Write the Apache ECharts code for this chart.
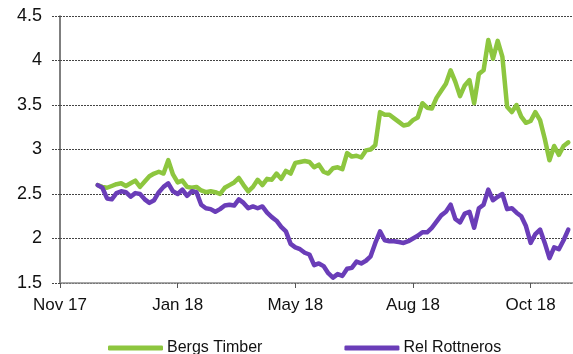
<!DOCTYPE html>
<html>
<head>
<meta charset="utf-8">
<script src="https://cdn.jsdelivr.net/npm/echarts@6/dist/echarts.min.js"></script>
<style>
  html, body { margin: 0; padding: 0; background: #fff; }
  #chart { width: 573px; height: 354px; }
</style>
</head>
<body>
<div id="chart"></div>
<script>
// Category axis: 110 trading-day slots, a labelled tick every 25 slots
const slotCount = 110;
const tickEvery = 25;
const tickLabels = ['Nov 17', 'Jan 18', 'May 18', 'Aug 18', 'Oct 18'];
const firstSlot = 8;

const bergsTimber = [
  2.60, 2.58, 2.57, 2.59, 2.61, 2.62, 2.59, 2.62, 2.65, 2.58,
  2.64, 2.70, 2.73, 2.75, 2.73, 2.88, 2.72, 2.63, 2.65, 2.58,
  2.57, 2.58, 2.54, 2.52, 2.53, 2.52, 2.50, 2.57, 2.60, 2.63,
  2.68, 2.60, 2.53, 2.58, 2.66, 2.60, 2.67, 2.66, 2.73, 2.67,
  2.76, 2.73, 2.85, 2.86, 2.87, 2.86, 2.80, 2.83, 2.75, 2.73,
  2.79, 2.80, 2.78, 2.96, 2.92, 2.93, 2.91, 2.99, 3.00, 3.05,
  3.42, 3.39, 3.39, 3.35, 3.31, 3.27, 3.28, 3.33, 3.36, 3.52,
  3.47, 3.46, 3.58, 3.66, 3.74, 3.89, 3.76, 3.60, 3.72, 3.78,
  3.52, 3.85, 3.89, 4.23, 4.02, 4.22, 4.04, 3.48, 3.42, 3.50,
  3.37, 3.30, 3.32, 3.42, 3.33, 3.12, 2.88, 3.04, 2.94, 3.04,
  3.08
];

const relRottneros = [
  2.60, 2.57, 2.45, 2.44, 2.51, 2.53, 2.52, 2.47, 2.51, 2.50,
  2.44, 2.40, 2.43, 2.52, 2.58, 2.62, 2.53, 2.50, 2.55, 2.48,
  2.53, 2.52, 2.38, 2.34, 2.33, 2.30, 2.33, 2.37, 2.38, 2.37,
  2.44, 2.40, 2.34, 2.36, 2.34, 2.36, 2.29, 2.24, 2.20, 2.13,
  2.08, 1.94, 1.90, 1.88, 1.84, 1.82, 1.70, 1.72, 1.69, 1.61,
  1.56, 1.60, 1.58, 1.66, 1.67, 1.74, 1.72, 1.75, 1.80, 1.95,
  2.08, 1.98, 1.97, 1.97, 1.96, 1.95, 1.97, 2.00, 2.03, 2.07,
  2.07, 2.12, 2.19, 2.26, 2.30, 2.38, 2.22, 2.18, 2.28, 2.30,
  2.12, 2.34, 2.38, 2.55, 2.43, 2.47, 2.50, 2.33, 2.34, 2.29,
  2.25, 2.14, 1.95, 2.05, 2.10, 1.95, 1.78, 1.90, 1.88, 1.98,
  2.10
];

const seriesNames = ['Bergs Timber', 'Rel Rottneros'];
const seriesColors = ['#8dc63f', '#6a3db8'];

function placeOnSlots(values) {
  const out = new Array(slotCount).fill(null);
  values.forEach((v, i) => { out[firstSlot + i] = v; });
  return out;
}

const categories = Array.from({ length: slotCount }, (_, i) => String(i));
const FONT = '"Liberation Sans", Arial, sans-serif';

const chart = echarts.init(document.getElementById('chart'), null, { renderer: 'canvas' });
chart.setOption({
  animation: false,
  backgroundColor: '#ffffff',
  grid: { left: 60, right: 0, top: 16, bottom: 71, containLabel: false },
  legend: {
    data: seriesNames,
    left: 103,
    top: 335,
    itemWidth: 55,
    itemHeight: 5,
    itemGap: 82,
    icon: 'roundRect',
    textStyle: { fontFamily: FONT, fontSize: 16, color: '#111', padding: [0, 0, 0, -1] }
  },
  xAxis: {
    type: 'category',
    data: categories,
    boundaryGap: false,
    axisLine: { lineStyle: { color: '#8a8a8a', width: 1.5 } },
    axisTick: { show: true, interval: tickEvery - 1, length: 5, lineStyle: { color: '#555' } },
    axisLabel: {
      interval: tickEvery - 1,
      margin: 14,
      fontFamily: FONT,
      fontSize: 17,
      color: '#111',
      formatter: (v, idx) => (idx % tickEvery === 0 ? tickLabels[idx / tickEvery] : '')
    },
    splitLine: { show: false }
  },
  yAxis: {
    type: 'value',
    min: 1.5,
    max: 4.5,
    interval: 0.5,
    axisLine: { show: true, lineStyle: { color: '#555', width: 1.5 } },
    axisTick: { show: true, length: 8, lineStyle: { color: '#444', type: [2, 1] } },
    axisLabel: { margin: 18, fontFamily: FONT, fontSize: 18, color: '#111' },
    splitLine: { show: true, lineStyle: { color: '#444', type: [2, 1], width: 1 } }
  },
  series: [
    {
      name: seriesNames[0],
      type: 'line',
      data: placeOnSlots(bergsTimber),
      symbol: 'none',
      color: seriesColors[0],
      lineStyle: { width: 4.5, color: seriesColors[0], join: 'round', cap: 'round' }
    },
    {
      name: seriesNames[1],
      type: 'line',
      data: placeOnSlots(relRottneros),
      symbol: 'none',
      color: seriesColors[1],
      lineStyle: { width: 4.5, color: seriesColors[1], join: 'round', cap: 'round' }
    }
  ]
});
</script>
</body>
</html>
